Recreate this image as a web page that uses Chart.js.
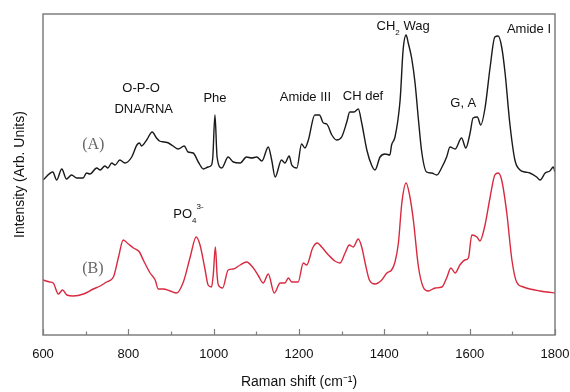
<!DOCTYPE html>
<html>
<head>
<meta charset="utf-8">
<script src="https://cdn.jsdelivr.net/npm/chart.js@4/dist/chart.umd.min.js"></script>
<style>
  html, body { margin: 0; padding: 0; background: #fff; }
  #wrap { width: 570px; height: 392px; }
</style>
</head>
<body>
<div id="wrap"><canvas id="c" width="570" height="392"></canvas></div>
<script>
// Raman shift (cm^-1) and intensity (arbitrary units) for spectrum (A)
const shiftA = [600, 623, 632, 644, 655, 667, 679, 694, 702, 710, 726, 734, 745, 752, 761, 769, 780, 792,
  808, 820, 826, 831, 843, 856, 866, 873, 884, 894, 905, 917, 931, 940, 952, 964, 976, 987, 995,
  998, 1003, 1008, 1019, 1034, 1046, 1062, 1077, 1089, 1101, 1113, 1128, 1136, 1144, 1159, 1167, 1177,
  1183, 1195, 1206, 1214, 1222, 1237, 1248, 1257, 1265, 1277, 1288, 1300, 1312, 1319, 1329, 1339, 1347,
  1359, 1370, 1378, 1390, 1402, 1413, 1417, 1425, 1437, 1444, 1451, 1456, 1464, 1472, 1480, 1488, 1499,
  1511, 1523, 1534, 1546, 1554, 1566, 1581, 1591, 1601, 1608, 1618, 1626, 1636, 1648, 1659, 1667, 1675,
  1683, 1694, 1706, 1718, 1730, 1741, 1757, 1765, 1777, 1788, 1796, 1800];
const intensityA = [155, 163, 155, 166, 156, 160, 157, 157, 162, 161, 167, 165, 169, 167, 172, 170, 175, 172,
  178, 190, 192, 189, 195, 203, 197, 194, 193, 192, 189, 186, 189, 183, 182, 173, 166, 168, 170,
  178, 220, 178, 167, 178, 173, 172, 178, 177, 178, 174, 188, 175, 158, 175, 172, 179,
  170, 167, 191, 187, 195, 220, 220, 212, 211, 200, 195, 198, 213, 223, 223, 226, 212,
  185, 170, 165, 178, 181, 180, 190, 198, 235, 285, 300, 292, 277, 252, 215, 182, 163,
  162, 160, 167, 178, 188, 186, 197, 187, 202, 217, 218, 210, 227, 268, 298, 299, 288,
  262, 212, 175, 165, 163, 162, 158, 155, 162, 164, 168, 163];

// Raman shift (cm^-1) and intensity (arbitrary units) for spectrum (B)
const shiftB = [600, 616, 624, 636, 646, 656, 671, 695, 718, 734, 749, 765, 777, 788, 800, 812, 826, 835,
  851, 863, 870, 882, 898, 913, 929, 945, 959, 968, 980, 987, 995, 999, 1004, 1008, 1011, 1021, 1034,
  1046, 1062, 1077, 1093, 1105, 1116, 1128, 1142, 1156, 1167, 1175, 1183, 1198, 1210, 1218, 1232,
  1243, 1253, 1269, 1284, 1296, 1308, 1318, 1327, 1339, 1347, 1355, 1365, 1378, 1394, 1406, 1417,
  1425, 1433, 1441, 1451, 1460, 1468, 1480, 1491, 1503, 1519, 1535, 1546, 1556, 1566, 1577, 1589,
  1597, 1605, 1617, 1624, 1636, 1648, 1659, 1667, 1675, 1687, 1699, 1710, 1726, 1741, 1765, 1781, 1800];
const intensityB = [55, 53, 52, 41, 45, 40, 39, 41, 46, 49, 53, 58, 78, 95, 91, 87, 83, 75,
  62, 55, 46, 46, 44, 42, 53, 78, 98, 90, 65, 50, 48, 60, 88, 60, 50, 47, 65,
  66, 70, 73, 67, 59, 52, 61, 42, 52, 52, 57, 53, 53, 72, 70, 87,
  92, 88, 80, 74, 72, 82, 90, 88, 96, 88, 72, 55, 51, 55, 62, 65,
  73, 92, 132, 152, 138, 115, 68, 48, 44, 47, 48, 57, 67, 62, 70, 75,
  77, 100, 98, 94, 110, 138, 160, 162, 155, 122, 75, 53, 48, 46, 44, 43, 42];

// Band assignments written above the spectra (x in cm^-1, y in intensity units)
const bandLabels = [
  { parts: [{ t: 'O-P-O' }], x: 830, y: 247 },
  { parts: [{ t: 'DNA/RNA' }], x: 836, y: 226 },
  { parts: [{ t: 'Phe' }], x: 1003, y: 237 },
  { parts: [{ t: 'Amide III' }], x: 1215, y: 238 },
  { parts: [{ t: 'CH def' }], x: 1350, y: 239 },
  { parts: [{ t: 'CH' }, { t: '2', sub: true }, { t: ' Wag' }], x: 1444, y: 309 },
  { parts: [{ t: 'G, A' }], x: 1585, y: 232 },
  { parts: [{ t: 'Amide I' }], x: 1739, y: 306 },
  { parts: [{ t: 'PO' }, { t: '4', sub: true }, { t: '3-', sup: true }], x: 941, y: 121 }
];
// Spectrum tags
const traceTags = [
  { text: '(A)', x: 718, y: 190 },
  { text: '(B)', x: 717, y: 66 }
];

const SANS = '"Liberation Sans", Arial, Helvetica, sans-serif';
const SERIF = '"Liberation Serif", "Times New Roman", serif';

const toPoints = (xs, ys) => xs.map((x, i) => ({ x: x, y: ys[i] }));

const frameAndTicks = {
  id: 'frameAndTicks',
  afterDatasetsDraw(chart) {
    const { ctx, chartArea: a, scales: { x } } = chart;
    ctx.save();
    ctx.strokeStyle = '#7f7f7f';
    ctx.lineWidth = 1.5;
    ctx.strokeRect(a.left, a.top, a.right - a.left, a.bottom - a.top);
    ctx.lineWidth = 1.2;
    ctx.beginPath();
    for (let v = x.min; v <= x.max; v += 100) {
      const px = Math.round(x.getPixelForValue(v)) + 0.5;
      const len = (v % 200 === 0) ? 6 : 3.5;
      ctx.moveTo(px, a.bottom);
      ctx.lineTo(px, a.bottom - len);
    }
    ctx.stroke();
    ctx.restore();
  }
};

const annotations = {
  id: 'annotations',
  afterDatasetsDraw(chart) {
    const { ctx, scales: { x, y } } = chart;
    ctx.save();
    ctx.textBaseline = 'middle';
    ctx.textAlign = 'left';
    const main = '13px ' + SANS;
    const small = '8px ' + SANS;
    bandLabels.forEach(l => {
      let w = 0;
      l.parts.forEach(p => { ctx.font = (p.sub || p.sup) ? small : main; w += ctx.measureText(p.t).width; });
      let cx = x.getPixelForValue(l.x) - w / 2;
      const cy = y.getPixelForValue(l.y);
      ctx.fillStyle = '#111';
      l.parts.forEach(p => {
        ctx.font = (p.sub || p.sup) ? small : main;
        const dy = p.sub ? 7 : (p.sup ? -7 : 0);
        ctx.fillText(p.t, cx, cy + dy);
        cx += ctx.measureText(p.t).width;
      });
    });
    ctx.textAlign = 'center';
    ctx.font = '16px ' + SERIF;
    ctx.fillStyle = '#666';
    traceTags.forEach(t => {
      ctx.fillText(t.text, x.getPixelForValue(t.x), y.getPixelForValue(t.y));
    });
    ctx.restore();
  }
};

new Chart(document.getElementById('c'), {
  type: 'line',
  data: {
    datasets: [
      {
        label: '(A)',
        data: toPoints(shiftA, intensityA),
        borderColor: '#1a1a1a',
        borderWidth: 1.4,
        pointRadius: 0,
        cubicInterpolationMode: 'monotone',
        fill: false
      },
      {
        label: '(B)',
        data: toPoints(shiftB, intensityB),
        borderColor: '#d9293f',
        borderWidth: 1.4,
        pointRadius: 0,
        cubicInterpolationMode: 'monotone',
        fill: false
      }
    ]
  },
  options: {
    responsive: false,
    animation: false,
    events: [],
    layout: { padding: { left: 0, right: 15, top: 14, bottom: 0 } },
    plugins: { legend: { display: false }, tooltip: { enabled: false } },
    scales: {
      x: {
        type: 'linear',
        min: 600,
        max: 1800,
        grid: { display: false, drawTicks: false },
        border: { display: false },
        ticks: {
          stepSize: 200,
          padding: 12,
          color: '#111',
          font: { family: SANS, size: 13 },
          callback: v => String(v)
        },
        title: {
          display: true,
          text: 'Raman shift (cm\u207B\u00B9)',
          color: '#111',
          font: { family: SANS, size: 14 },
          padding: { top: 0, bottom: 1 }
        },
        afterFit(scale) {
          scale.height = 57;
          scale.paddingLeft = 0;
          scale.paddingRight = 0;
        }
      },
      y: {
        min: 0,
        max: 321,
        grid: { display: false, drawTicks: false },
        border: { display: false },
        ticks: { display: false },
        title: {
          display: true,
          text: 'Intensity (Arb. Units)',
          color: '#111',
          font: { family: SANS, size: 14 },
          padding: { top: 12, bottom: 0 }
        },
        afterFit(scale) { scale.width = 43; }
      }
    }
  },
  plugins: [frameAndTicks, annotations]
});
</script>
</body>
</html>
